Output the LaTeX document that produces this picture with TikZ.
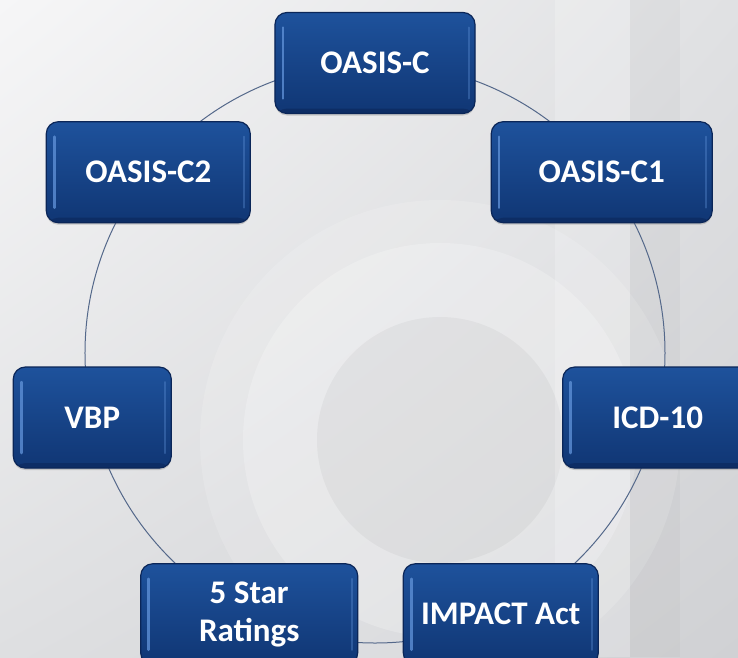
\documentclass[tikz,border=0pt]{standalone}
\usepackage{fontspec}
\setmainfont{Carlito}
\usetikzlibrary{shadows, shadings}
\tikzset{every picture/.style={line width=0.75pt}}

\definecolor{tilehi}{RGB}{30,82,156}
\definecolor{tilelo}{RGB}{16,54,116}
\definecolor{tileedge}{RGB}{11,38,88}
\definecolor{tilegloss}{RGB}{98,148,218}
\definecolor{ringline}{RGB}{84,104,138}
\definecolor{bgul}{RGB}{246,246,247}
\definecolor{bgur}{RGB}{224,225,227}
\definecolor{bgll}{RGB}{222,223,225}
\definecolor{bglr}{RGB}{208,209,212}

\begin{document}
\begin{tikzpicture}[x=1pt,y=1pt,
    tile/.style={draw=tileedge, line width=1.2pt, rounded corners=12pt,
        top color=tilehi, bottom color=tilelo, minimum height=101pt,
        text=white, font=\fontsize{33}{38}\selectfont\bfseries, align=center,
        drop shadow={shadow xshift=0pt, shadow yshift=-2pt, opacity=.35},
        path picture={
            \draw[tilegloss, opacity=.75, line width=2.5pt, line cap=round]
                ([shift={(8pt,-15pt)}]path picture bounding box.north west) --
                ([shift={(8pt,15pt)}]path picture bounding box.south west);
            \draw[tilegloss, opacity=.35, line width=2pt, line cap=round]
                ([shift={(-6pt,-15pt)}]path picture bounding box.north east) --
                ([shift={(-6pt,15pt)}]path picture bounding box.south east);
            \fill[tileedge, opacity=.55]
                (path picture bounding box.south west) rectangle
                ([yshift=5pt]path picture bounding box.south east);
        }},
    ring/.style={draw=ringline, line width=1pt}]

    \useasboundingbox (-375,-304) rectangle (363,353);
    \clip (-375,-304) rectangle (363,353);

    % backdrop with the faint logo
    \shade[upper left=bgul, upper right=bgur, lower left=bgll, lower right=bglr]
        (-375,-304) rectangle (363,353);
    \fill[white, opacity=.15] (65,-87) circle (240);
    \fill[white, opacity=.22] (65,-87) circle (197);
    \fill[black, opacity=.035] (65,-87) circle (123);
    \fill[white, opacity=.2] (180,-304) rectangle (255,353);
    \fill[black, opacity=.025] (255,-304) rectangle (305,353);

    \coordinate (hub) at (0,0);
    \draw[ring] (hub) circle (290);

    \node[tile, minimum width=200pt] (c)  at (90:290)      {OASIS-C};
    \node[tile, minimum width=221pt] (c1) at (38.57:290)   {OASIS-C1};
    \node[tile, minimum width=190pt] (icd) at (-12.86:290) {ICD-10};
    \node[tile, minimum width=195pt] (imp) at (-64.29:290) {IMPACT Act};
    \node[tile, minimum width=217pt] (star) at (-115.71:290) {5 Star\\Ratings};
    \node[tile, minimum width=158pt] (vbp) at (192.86:290) {VBP};
    \node[tile, minimum width=204pt] (c2) at (141.43:290)  {OASIS-C2};
\end{tikzpicture}
\end{document}
